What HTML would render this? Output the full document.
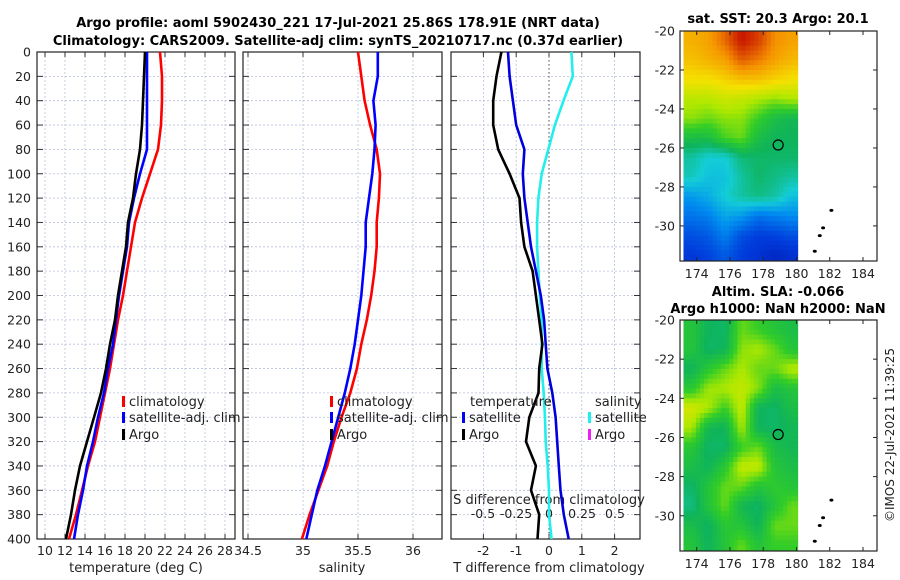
<!DOCTYPE html>
<html><head><meta charset="utf-8">
<style>
body{margin:0;background:#fff;}
svg{display:block;font-family:"DejaVu Sans","Liberation Sans",sans-serif;}
</style></head>
<body>
<svg id="chart" width="900" height="580" viewBox="0 0 900 580">
<g id="static">
<text x="338" y="27" text-anchor="middle" font-weight="bold" font-size="13">Argo profile: aoml 5902430_221 17-Jul-2021 25.86S 178.91E (NRT data)</text>
<text x="338" y="45" text-anchor="middle" font-weight="bold" font-size="13">Climatology: CARS2009. Satellite-adj clim: synTS_20210717.nc (0.37d earlier)</text>
<text x="136" y="572" text-anchor="middle" font-size="13" fill="#222">temperature (deg C)</text>
<text x="342" y="572" text-anchor="middle" font-size="13" fill="#222">salinity</text>
<text x="549" y="572" text-anchor="middle" font-size="13" fill="#222">T difference from climatology</text>
<text x="549" y="504" text-anchor="middle" font-size="13" fill="#222">S difference from climatology</text>
<text x="778" y="23" text-anchor="middle" font-weight="bold" font-size="13">sat. SST: 20.3 Argo: 20.1</text>
<text x="778" y="296" text-anchor="middle" font-weight="bold" font-size="13">Altim. SLA: -0.066</text>
<text x="778" y="313" text-anchor="middle" font-weight="bold" font-size="13">Argo h1000: NaN h2000: NaN</text>
<text x="0" y="0" transform="translate(894,435) rotate(-90)" text-anchor="middle" font-size="12" fill="#222">©IMOS 22-Jul-2021 11:39:25</text>
</g>
</svg>
<script>
// ---- data ----
const depths = [0,20,40,60,80,100,120,140,160,180,200,220,240,260,280,300,320,340,360,380,400];
const tempClim = [21.5,21.7,21.7,21.6,21.3,20.5,19.7,19.0,18.6,18.2,17.8,17.3,16.9,16.5,16.0,15.5,15.0,14.3,13.7,13.1,12.4];
const tempSat = [20.2,20.2,20.2,20.2,20.2,19.5,18.9,18.4,18.2,17.8,17.4,17.1,16.8,16.3,15.9,15.3,14.8,14.2,13.8,13.3,12.9];
const tempArgo = [20.0,19.9,19.8,19.7,19.5,19.1,18.8,18.3,18.1,17.7,17.3,17.0,16.5,16.1,15.6,14.9,14.2,13.5,13.0,12.6,12.1];
const salClim = [35.50,35.53,35.56,35.61,35.67,35.70,35.69,35.67,35.67,35.65,35.62,35.58,35.53,35.49,35.43,35.35,35.28,35.22,35.14,35.06,34.99];
const salSat = [35.68,35.68,35.64,35.66,35.65,35.63,35.60,35.57,35.57,35.55,35.53,35.50,35.47,35.43,35.38,35.32,35.26,35.20,35.13,35.08,35.03];
const tDiffSat = [-1.25,-1.2,-1.1,-1.0,-0.75,-0.8,-0.75,-0.65,-0.55,-0.4,-0.25,-0.15,-0.1,-0.05,0.1,0.2,0.25,0.3,0.35,0.45,0.6];
const tDiffArgo = [-1.45,-1.6,-1.7,-1.7,-1.55,-1.2,-0.9,-0.85,-0.75,-0.5,-0.4,-0.3,-0.2,-0.3,-0.32,-0.6,-0.7,-0.4,-0.55,-0.3,-0.35];
const sDiffSat = [0.17,0.18,0.11,0.045,-0.005,-0.055,-0.08,-0.09,-0.09,-0.08,-0.07,-0.055,-0.055,-0.055,-0.04,-0.03,-0.025,-0.01,0,0,0.02];
const depthTicks = [0,20,40,60,80,100,120,140,160,180,200,220,240,260,280,300,320,340,360,380,400];
const tempTicks = [10,12,14,16,18,20,22,24,26,28];
const salTicks = [34.5,35,35.5,36];
const salTickLabels = ["34.5","35","35.5","36"];
const tdTicks = [-2,-1,0,1,2];
const sdTicks = [-0.5,-0.25,0,0.25,0.5];
const sdTickLabels = ["-0.5","-0.25","0","0.25","0.5"];
const lonTicks = [174,176,178,180,182,184];
const latTicks = [-20,-22,-24,-26,-28,-30];
const sstGrid = [
[0.76,0.78,0.84,0.92,0.88,0.8,0.78],
[0.74,0.76,0.78,0.85,0.82,0.78,0.75],
[0.7,0.7,0.72,0.74,0.74,0.72,0.7],
[0.63,0.63,0.65,0.64,0.62,0.6,0.62],
[0.6,0.58,0.6,0.6,0.55,0.5,0.48],
[0.5,0.5,0.56,0.58,0.5,0.47,0.47],
[0.42,0.38,0.38,0.45,0.46,0.46,0.46],
[0.4,0.36,0.36,0.42,0.46,0.44,0.42],
[0.3,0.33,0.38,0.42,0.44,0.42,0.36],
[0.24,0.26,0.32,0.3,0.24,0.26,0.28],
[0.18,0.2,0.26,0.18,0.15,0.16,0.18],
[0.14,0.16,0.2,0.15,0.13,0.1,0.12]];
const slaGrid = [
[0.52,0.47,0.46,0.58,0.55,0.52,0.5],
[0.52,0.46,0.47,0.6,0.62,0.58,0.52],
[0.47,0.53,0.58,0.62,0.58,0.58,0.63],
[0.53,0.61,0.62,0.64,0.6,0.5,0.52],
[0.66,0.62,0.55,0.64,0.47,0.46,0.5],
[0.62,0.48,0.47,0.62,0.47,0.46,0.48],
[0.53,0.46,0.46,0.55,0.58,0.5,0.48],
[0.5,0.47,0.53,0.64,0.64,0.52,0.5],
[0.46,0.52,0.58,0.58,0.52,0.54,0.52],
[0.44,0.52,0.58,0.48,0.46,0.52,0.58],
[0.5,0.46,0.53,0.52,0.47,0.58,0.58],
[0.52,0.47,0.52,0.58,0.52,0.55,0.55]];
const islandLon = [182.1,181.6,181.4,181.1];
const islandLat = [-29.2,-30.1,-30.5,-31.3];
const argoLon = [178.9];
const argoLat = [-25.85];

// ---- helpers ----
const svg = document.getElementById('chart');
const NS = 'http://www.w3.org/2000/svg';
function mk(tag, attrs, parent){const e=document.createElementNS(NS,tag);for(const k in attrs)e.setAttribute(k,attrs[k]);(parent||svg).appendChild(e);return e;}
const Y0=52, Y1=539;
function yD(d){return Y0+(d/400)*(Y1-Y0);}
function lin(d0,d1,r0,r1){return v=>r0+(v-d0)/(d1-d0)*(r1-r0);}

const panels = [
 {x0:37,x1:235,sx:lin(10,28,45,225),ticks:tempTicks,labels:tempTicks.map(String),name:'temperature-panel'},
 {x0:243,x1:442,sx:lin(34.5,36,248,413),ticks:salTicks,labels:salTickLabels,name:'salinity-panel'},
 {x0:451,x1:640,sx:lin(0,1,549,581.8),ticks:tdTicks,labels:tdTicks.map(String),name:'difference-panel'}
];
panels.forEach((p,pi)=>{
  const g=mk('g',{});
  
  
  p.ticks.forEach((t,i)=>{
    const x=p.sx(t);
    const gl=mk('line',{x1:x,x2:x,y1:Y0,y2:Y1,stroke:'#b8c0dd','stroke-width':0.8,'stroke-dasharray':'2,2'},g);
    
    
    mk('line',{x1:x,x2:x,y1:Y1,y2:Y1-5,stroke:'#333'},g);
    mk('line',{x1:x,x2:x,y1:Y0,y2:Y0+5,stroke:'#333'},g);
    const tl=mk('text',{x:x,y:555,'text-anchor':'middle','font-size':12.5,fill:'#222'},g);
    tl.textContent=p.labels[i];
    
    
  });
  depthTicks.forEach(d=>{
    const y=yD(d);
    const gl=mk('line',{x1:p.x0,x2:p.x1,y1:y,y2:y,stroke:'#b8c0dd','stroke-width':0.8,'stroke-dasharray':'2,2'},g);
    
    
    mk('line',{x1:p.x0,x2:p.x0+6,y1:y,y2:y,stroke:'#333'},g);
    mk('line',{x1:p.x1,x2:p.x1-6,y1:y,y2:y,stroke:'#333'},g);
    if(pi===0){
      const tl=mk('text',{x:31,y:y+4.5,'text-anchor':'end','font-size':12.5,fill:'#222'},g);
      tl.textContent=String(d);
      
      
    }
  });
  const fr=mk('rect',{x:p.x0,y:Y0,width:p.x1-p.x0,height:Y1-Y0,fill:'none',stroke:'#222','stroke-width':1.2},g);
  
  
});

function profile(vals, sx, color, name, w){
  const pts=vals.map((v,i)=>sx(v).toFixed(1)+','+yD(depths[i]).toFixed(1)).join(' ');
  const l=mk('polyline',{points:pts,fill:'none',stroke:color,'stroke-width':w||2.6,'stroke-linejoin':'round'});
  
  
}
const sdx=lin(0,1,549,681);
const zl=mk('line',{x1:549,x2:549,y1:Y0,y2:Y1,stroke:'#555','stroke-width':1,'stroke-dasharray':'1.5,2.5'});


sdTicks.forEach((t,i)=>{
  const tl=mk('text',{x:sdx(t),y:518,'text-anchor':'middle','font-size':12.5,fill:'#222'});
  tl.textContent=sdTickLabels[i];
  
  
});

profile(tempClim,panels[0].sx,'#ff0000','temp-climatology-line');
profile(tempSat,panels[0].sx,'#0000ff','temp-satellite-line');
profile(tempArgo,panels[0].sx,'#000000','temp-argo-line');
profile(salClim,panels[1].sx,'#ff0000','salinity-climatology-line');
profile(salSat,panels[1].sx,'#0000ff','salinity-satellite-line');
profile(sDiffSat,sdx,'#22eeee','s-diff-satellite-line');
profile(tDiffSat,panels[2].sx,'#0000dd','t-diff-satellite-line');
profile(tDiffArgo,panels[2].sx,'#000000','t-diff-argo-line');

function legend(x,y,color,label,name){
  const g=mk('g',{});
  
  
  if(color) mk('rect',{x:x,y:y-10,width:3,height:11,fill:color},g);
  const t=mk('text',{x:x+7,y:y,'font-size':13,fill:'#222'},g);
  t.textContent=label;
}
legend(122,406,'#ff0000','climatology','legend-climatology');
legend(122,422,'#0000ff','satellite-adj. clim','legend-satellite-adj');
legend(122,439,'#000000','Argo','legend-argo');
legend(330,406,'#ff0000','climatology','legend-sal-climatology');
legend(330,422,'#0000ff','satellite-adj. clim','legend-sal-satellite-adj');
legend(330,439,'#000000','Argo','legend-sal-argo');
legend(463,406,null,'temperature','legend-temperature-heading');
legend(462,422,'#0000ff','satellite','legend-t-satellite');
legend(462,439,'#000000','Argo','legend-t-argo');
legend(588,406,null,'salinity','legend-salinity-heading');
legend(588,422,'#22eeee','satellite','legend-s-satellite');
legend(588,439,'#ee22ee','Argo','legend-s-argo');

// ---- maps ----
const palStops=[[0,[0,0,150]],[0.15,[0,60,220]],[0.28,[0,140,240]],[0.38,[20,205,215]],[0.47,[15,180,90]],[0.55,[50,205,40]],[0.62,[175,232,0]],[0.7,[245,225,0]],[0.8,[245,145,0]],[0.92,[200,20,0]],[1,[140,0,0]]];
function pal(v){
  v=Math.max(0,Math.min(1,v));
  for(let i=1;i<palStops.length;i++){
    if(v<=palStops[i][0]){
      const a=palStops[i-1],b=palStops[i],t=(v-a[0])/(b[0]-a[0]);
      return 'rgb('+a[1].map((c,k)=>Math.round(c+(b[1][k]-c)*t)).join(',')+')';
    }
  }
  return 'rgb(140,0,0)';
}
function sample(grid,fy,fx){
  const R=grid.length,C=grid[0].length;
  const y=Math.max(0,Math.min(R-1,fy-0.5)),x=Math.max(0,Math.min(C-1,fx-0.5));
  const y0=Math.floor(y),x0=Math.floor(x),y1=Math.min(R-1,y0+1),x1=Math.min(C-1,x0+1);
  const ty=y-y0,tx=x-x0;
  return grid[y0][x0]*(1-ty)*(1-tx)+grid[y0][x1]*(1-ty)*tx+grid[y1][x0]*ty*(1-tx)+grid[y1][x1]*ty*tx;
}
function drawMap(grid, top, bottom, name){
  const sx=lin(174,184,696.7,863);
  const sy=lin(-20,-30,top,top+(bottom-top)*10/11.8);
  const g=mk('g',{});
  
  
  const clipId=name+'-clip';
  const cp=mk('clipPath',{id:clipId},g);
  mk('rect',{x:sx(173.2),y:top,width:sx(180.1)-sx(173.2),height:bottom-top},cp);
  const cells=mk('g',{'clip-path':'url(#'+clipId+')'},g);
  const sub=4;
  for(let ri=0;ri<grid.length*sub;ri++){
    for(let ci=0;ci<grid[0].length*sub;ci++){
      const v=sample(grid,(ri+0.5)/sub,(ci+0.5)/sub);
      const lon0=173.2+ci/sub, lat0=-20-ri/sub;
      const c=mk('rect',{x:sx(lon0),y:sy(lat0),width:sx(lon0+1/sub)-sx(lon0)+0.5,height:sy(lat0-1/sub)-sy(lat0)+0.5,fill:pal(v)},cells);
      
      
    }
  }
  islandLon.forEach((lo,i)=>{
    const d=mk('ellipse',{cx:sx(lo),cy:sy(islandLat[i]),rx:2,ry:1.5,fill:'#000'},g);
    
    
  });
  argoLon.forEach((lo,i)=>{
    const c=mk('circle',{cx:sx(lo),cy:sy(argoLat[i]),r:5,fill:'none',stroke:'#000','stroke-width':1.2},g);
    
    
  });
  const fr=mk('rect',{x:680,y:top,width:197,height:bottom-top,fill:'none',stroke:'#222','stroke-width':1.2},g);
  
  
  lonTicks.forEach(t=>{
    const x=sx(t);
    mk('line',{x1:x,x2:x,y1:bottom,y2:bottom-4,stroke:'#222'},g);
    mk('line',{x1:x,x2:x,y1:top,y2:top+4,stroke:'#222'},g);
    const tl=mk('text',{x:x,y:bottom+17,'text-anchor':'middle','font-size':12.5,fill:'#222'},g);
    tl.textContent=String(t);
    
    
  });
  latTicks.forEach(t=>{
    const y=sy(t);
    mk('line',{x1:680,x2:684,y1:y,y2:y,stroke:'#222'},g);
    mk('line',{x1:877,x2:873,y1:y,y2:y,stroke:'#222'},g);
    const tl=mk('text',{x:675,y:y+4.5,'text-anchor':'end','font-size':12.5,fill:'#222'},g);
    tl.textContent=String(t);
    
    
  });
}
drawMap(sstGrid,31,261,'sst-map');
drawMap(slaGrid,320,551,'sla-map');
</script>
</body></html>
